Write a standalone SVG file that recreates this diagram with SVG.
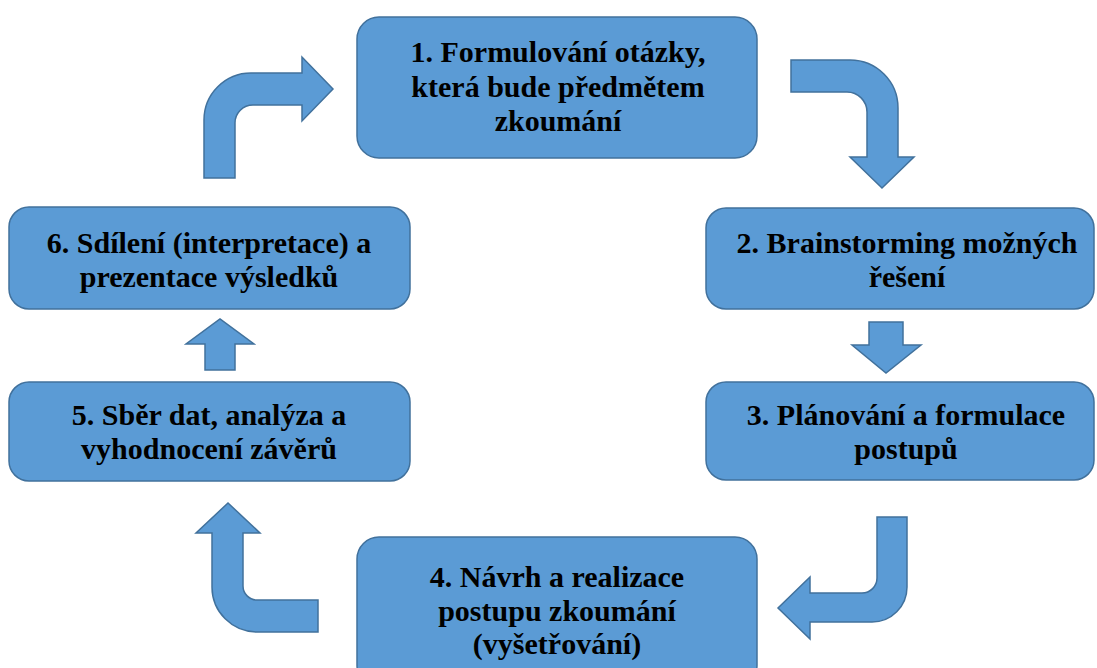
<svg xmlns="http://www.w3.org/2000/svg" width="1097" height="668" viewBox="0 0 1097 668">
<style>
.box{fill:#5B9BD5;stroke:#41719C;stroke-width:1.5}
.arr{fill:#5B9BD5;stroke:#41719C;stroke-width:1.5;stroke-linejoin:miter}
.t{font-family:"Liberation Serif","Times New Roman",serif;font-weight:bold;font-size:30px;fill:#000;text-anchor:middle}
</style>
<rect width="1097" height="668" fill="#fff"/>
<g id="connectors">
<path class="arr" d="M204,178 L204,120 A47,47 0 0 1 251,73 L302,73 L302,57 L333,89 L302,121 L302,105 L253,105 A18,18 0 0 0 235,123 L235,178 Z"/>
<path class="arr" d="M791,60 L850,60 A48,48 0 0 1 898,108 L898,157 L914,157 L882,188 L850,157 L867,157 L867,112 A20,20 0 0 0 847,92 L791,92 Z"/>
<path class="arr" d="M869,322 L903,322 L903,345 L921,345 L886,373 L852,345 L869,345 Z"/>
<path class="arr" d="M877,517 L907,517 L907,587 A35,35 0 0 1 872,622 L810,622 L810,639 L778,608 L810,577 L810,593 L862,593 A15,15 0 0 0 877,578 Z"/>
<path class="arr" d="M318,600 L257,600 A14,14 0 0 1 243,586 L243,533 L260,533 L228,503 L196,533 L212,533 L212,587 A45,45 0 0 0 257,632 L318,632 Z"/>
<path class="arr" d="M205,370 L205,344 L186,344 L220,319 L254,344 L235,344 L235,370 Z"/>
</g>
<g id="node1">
<rect class="box" x="357" y="17" width="400" height="141" rx="22"/>
<text class="t" x="558" y="62">1. Formulování otázky,</text>
<text class="t" x="558" y="97">která bude předmětem</text>
<text class="t" x="558" y="131">zkoumání</text>
</g>
<g id="node2">
<rect class="box" x="706" y="208" width="388" height="101" rx="20"/>
<text class="t" x="907" y="253">2. Brainstorming možných</text>
<text class="t" x="907" y="287">řešení</text>
</g>
<g id="node3">
<rect class="box" x="706" y="382" width="388" height="98" rx="20"/>
<text class="t" x="906" y="425">3. Plánování a formulace</text>
<text class="t" x="906" y="459">postupů</text>
</g>
<g id="node4">
<rect class="box" x="357" y="537" width="400" height="150" rx="22"/>
<text class="t" x="557" y="587">4. Návrh a realizace</text>
<text class="t" x="557" y="621">postupu zkoumání</text>
<text class="t" x="557" y="654">(vyšetřování)</text>
</g>
<g id="node5">
<rect class="box" x="9" y="382" width="401" height="99" rx="20"/>
<text class="t" x="209" y="425">5. Sběr dat, analýza a</text>
<text class="t" x="209" y="459">vyhodnocení závěrů</text>
</g>
<g id="node6">
<rect class="box" x="9" y="207" width="401" height="102" rx="20"/>
<text class="t" x="209" y="253">6. Sdílení (interpretace) a</text>
<text class="t" x="209" y="287">prezentace výsledků</text>
</g>
</svg>
